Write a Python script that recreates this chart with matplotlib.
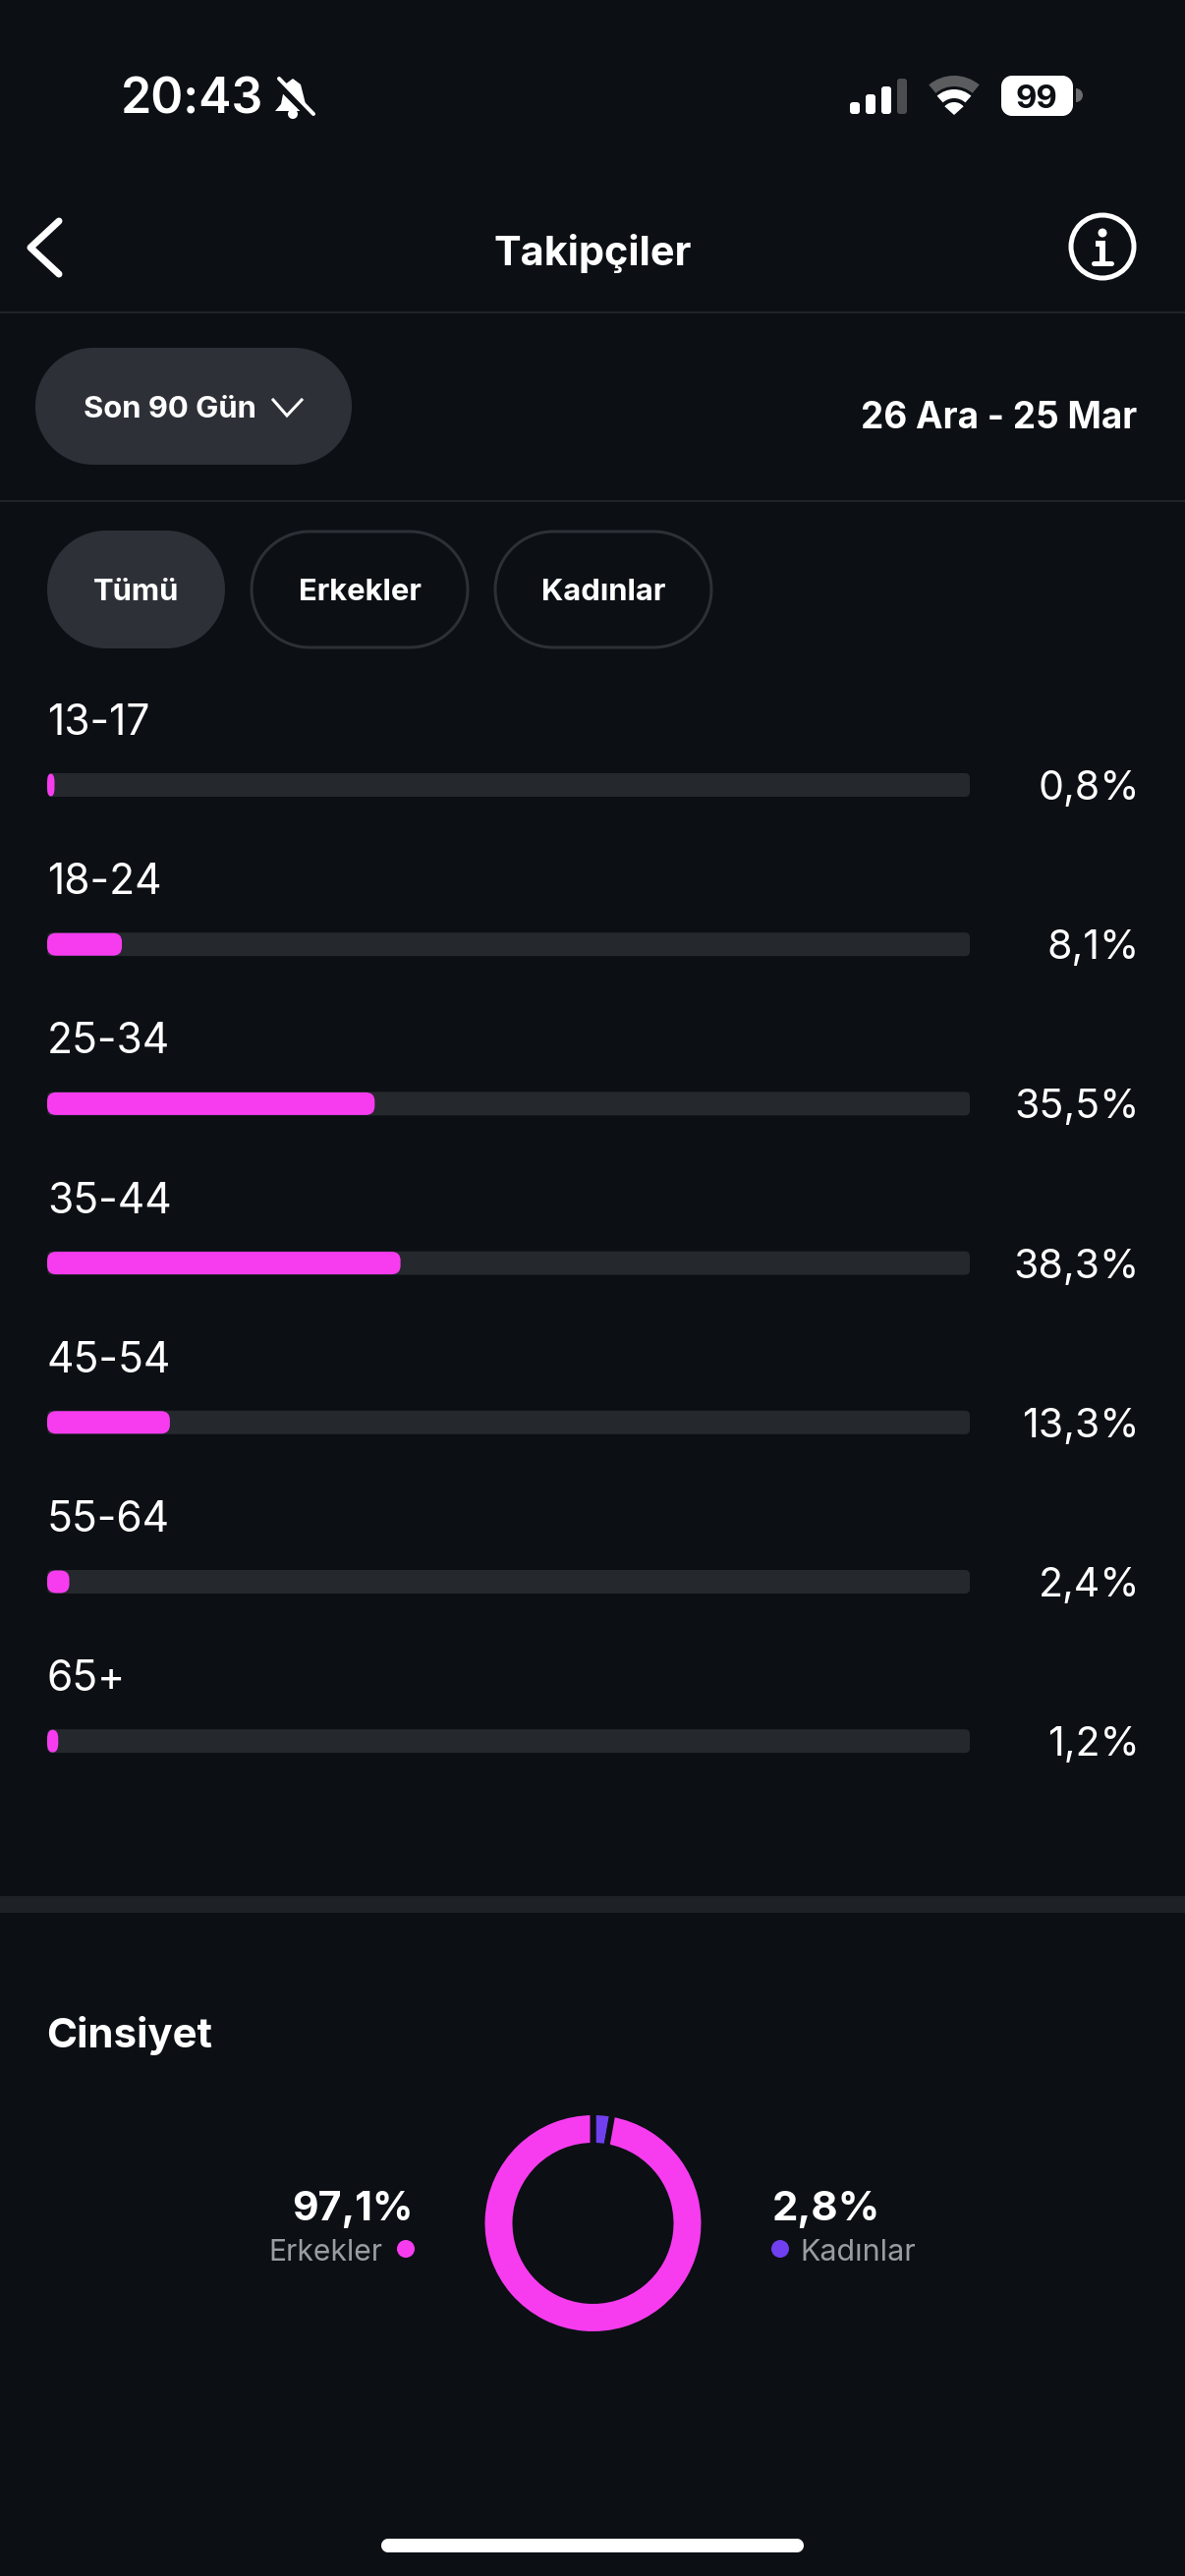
import matplotlib
matplotlib.use("Agg")
import matplotlib.pyplot as plt
from matplotlib.patches import FancyBboxPatch, Circle, Polygon, Wedge
import numpy as np

W, H = 1206, 2622

age_groups = ["13-17", "18-24", "25-34", "35-44", "45-54", "55-64", "65+"]
age_values = [0.8, 8.1, 35.5, 38.3, 13.3, 2.4, 1.2]
age_labels = ["0,8%", "8,1%", "35,5%", "38,3%", "13,3%", "2,4%", "1,2%"]
gender_names = ["Kadınlar", "Erkekler"]
gender_values = [2.8, 97.1]
gender_labels = ["2,8%", "97,1%"]
filter_names = ["Tümü", "Erkekler", "Kadınlar"]

BG = "#0c0f14"
PINK = "#f73cf0"
PURPLE = "#703ff0"
TRACK = "#25282c"
PILL = "#2d3137"
LINE = "#212429"
GREY = "#9a9da1"

plt.rcParams["font.family"] = ["Inter", "DejaVu Sans"]


def fs(px):
    # font size in points for an em size in image pixels
    return px * 0.72


def lw(px):
    return px * 0.72


def axes_px(x0, y0, x1, y1):
    return fig.add_axes([x0 / W, 1 - y1 / H, (x1 - x0) / W, (y1 - y0) / H])


fig = plt.figure(figsize=(W / 100, H / 100), dpi=100, facecolor=BG)

# whole screen axes in image pixels, for the app chrome
ui = fig.add_axes([0, 0, 1, 1])
ui.set_xlim(0, W)
ui.set_ylim(H, 0)
ui.axis("off")


def label(x, y, s, size, weight="normal", color="white", ha="left"):
    ui.text(x, y, s, fontsize=fs(size), fontweight=weight, color=color, ha=ha, va="baseline")


def pill(x0, y0, x1, y1, r, face="none", edge="none", width=0, z=2):
    # true circular corners, FancyBboxPatch corners come out too square when r is big
    t = np.linspace(0, np.pi / 2, 24)
    pts = []
    for cx, cy, a in [(x1 - r, y0 + r, -np.pi / 2), (x1 - r, y1 - r, 0),
                      (x0 + r, y1 - r, np.pi / 2), (x0 + r, y0 + r, np.pi)]:
        pts += list(zip(cx + r * np.cos(t + a), cy + r * np.sin(t + a)))
    ui.add_patch(Polygon(pts, closed=True, fc=face, ec=edge, lw=lw(width), zorder=z))


# status bar
label(123, 116, "20:43", 50, "semibold")
ui.add_patch(Polygon([(298, 80), (306, 86), (311, 106), (318, 113), (280, 113), (286, 106), (290, 86)],
                     closed=True, fc="white", ec="none"))
ui.add_patch(Circle((298, 116), 5, fc="white", ec="none"))
ui.plot([280, 317], [82, 119], color=BG, lw=lw(8), solid_capstyle="butt")
ui.plot([284, 319], [80, 116], color="white", lw=lw(4), solid_capstyle="round")
sig_x = [865, 881, 897, 913]
sig_top = [104, 96, 88, 80]
sig_col = ["white", "white", "white", "#4b4d50"]
for x, t, c in zip(sig_x, sig_top, sig_col):
    pill(x, t, x + 10, 116, 3, face=c)
ui.add_patch(Wedge((971, 117), 40, 230, 310, width=11, fc="#5a5c5e", ec="none"))
ui.add_patch(Wedge((971, 117), 26, 228, 312, width=9, fc="white", ec="none"))
ui.add_patch(Wedge((971, 117), 13, 222, 318, fc="white", ec="none"))
pill(1019, 77, 1092, 118, 11, face="white")
ui.add_patch(Wedge((1095, 97), 7, -90, 90, fc="#6a6c6e", ec="none"))
label(1055, 110, "99", 33, "bold", color=BG, ha="center")

# header
ui.plot([60, 31, 60], [225, 252, 279], color="white", lw=lw(7), solid_capstyle="round", solid_joinstyle="round")
label(603, 270, "Takipçiler", 41.5, "bold", ha="center")
ui.add_patch(Circle((1122, 251), 32, fc="none", ec="white", lw=lw(5)))
ui.add_patch(Circle((1122, 237), 4.5, fc="white", ec="none"))
ui.plot([1115, 1122, 1122], [248, 248, 268], color="white", lw=lw(6), solid_capstyle="butt", solid_joinstyle="miter")
ui.plot([1113, 1131], [268, 268], color="white", lw=lw(5), solid_capstyle="round")
ui.plot([0, W], [318, 318], color=LINE, lw=lw(2))
ui.plot([0, W], [510, 510], color=LINE, lw=lw(2))

# range selector
pill(36, 354, 358, 473, 59, face=PILL)
label(85, 425, "Son 90 Gün", 31, "bold")
ui.plot([278, 292, 307], [407, 423, 407], color="white", lw=lw(3), solid_joinstyle="miter")
label(1157, 436, "26 Ara - 25 Mar", 37, "bold", ha="right")

# filter buttons
filter_x = [(48, 229), (255, 477), (503, 725)]
for i, (name, (x0, x1)) in enumerate(zip(filter_names, filter_x)):
    if i == 0:
        pill(x0, 540, x1, 660, 60, face=PILL)
    else:
        pill(x0 + 1, 541, x1 - 1, 659, 59, edge=PILL, width=3)
    label((x0 + x1) / 2, 611, name, 31, "bold", ha="center")

# age bars, x in percent, y in rows
ROW = 162.2
ax = axes_px(48, 799 - ROW / 2, 987, 799 + ROW * 6.5)
ax.set_xlim(0, 100)
ax.set_ylim(len(age_groups) - 0.5, -0.5)
ax.axis("off")
ax.patch.set_alpha(0)
px_x = 100 / 939
px_y = 1 / ROW
ys = list(range(len(age_groups)))


def rounded_bars(values, height, radius, color, z):
    bars = ax.barh(ys, values, height=height * px_y, left=0, color=color)
    for b in bars:
        b.set_visible(False)
        r = min(radius * px_x, b.get_width() / 2)
        ax.add_patch(FancyBboxPatch((b.get_x(), b.get_y()), b.get_width(), b.get_height(),
                                    boxstyle="round,pad=0,rounding_size=%g" % r,
                                    mutation_aspect=radius * px_y / r,
                                    fc=color, ec="none", zorder=z))


rounded_bars([100] * len(ys), 24, 5, TRACK, 2)
rounded_bars(age_values, 23, 9, PINK, 3)

for y, name, txt in zip(ys, age_groups, age_labels):
    ax.annotate(name, xy=(0, y), xytext=(0, 51), textcoords="offset pixels", fontsize=fs(42.5),
                color="white", ha="left", va="baseline", annotation_clip=False)
    ax.annotate(txt, xy=(100, y), xytext=(173, -15), textcoords="offset pixels", fontsize=fs(41),
                color="white", ha="right", va="baseline", annotation_clip=False)

# gender section
ui.add_patch(plt.Rectangle((0, 1930), W, 17, fc="#1e2126", ec="none"))
label(47, 2084, "Cinsiyet", 42, "bold")

dx = axes_px(603.5 - 125, 2263 - 125, 603.5 + 125, 2263 + 125)
dx.pie(gender_values, colors=[PURPLE, PINK], startangle=90, counterclock=False, radius=113,
       wedgeprops={"width": 34, "edgecolor": BG, "linewidth": lw(6)})
dx.set_xlim(-125, 125)
dx.set_ylim(-125, 125)
dx.patch.set_alpha(0)

label(421, 2260, gender_labels[1], 41, "bold", ha="right")
label(389, 2301, gender_names[1], 30, color=GREY, ha="right")
ui.add_patch(Circle((413, 2289), 9, fc=PINK, ec="none"))
label(786, 2260, gender_labels[0], 42, "bold")
label(814, 2301, gender_names[0], 30.5, color=GREY)
ui.add_patch(Circle((794, 2289), 9, fc=PURPLE, ec="none"))

# home indicator
pill(388, 2584, 818, 2598, 7, face="white")

fig.savefig("out.png", dpi=100, facecolor=BG)
